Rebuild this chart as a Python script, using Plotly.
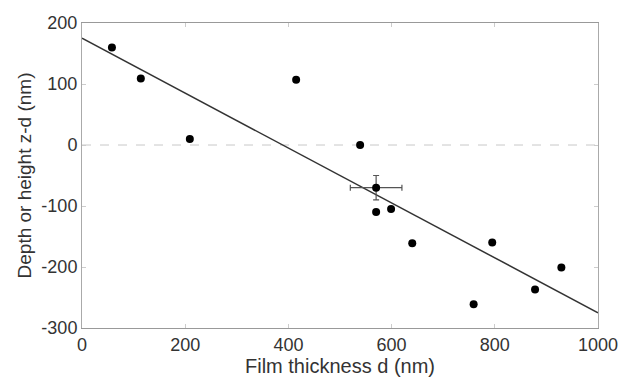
import plotly.graph_objects as go

# Data
thickness = [58, 114, 209, 415, 539, 570, 599, 640, 759, 795, 878, 929]
depth = [160, 109, 10, 107, 0, -110, -105, -161, -261, -160, -237, -201]

# Point with error bars
err_x = [570]
err_y = [-70]
err_dx = [50]
err_dy = [20]

# Linear fit
fit_x = [0, 1000]
fit_y = [175, -275]

x_ticks = [0, 200, 400, 600, 800, 1000]
y_ticks = [-300, -200, -100, 0, 100, 200]
y_tick_text = ["-300", "-200", "-100", "0", "100", "200"]

fig = go.Figure()
fig.add_trace(go.Scatter(x=fit_x, y=fit_y, mode="lines",
                         line=dict(color="#333333", width=1.5), showlegend=False))
fig.add_trace(go.Scatter(x=thickness, y=depth, mode="markers",
                         marker=dict(color="black", size=8), showlegend=False))
fig.add_trace(go.Scatter(x=err_x, y=err_y, mode="markers",
                         marker=dict(color="black", size=8),
                         error_x=dict(type="data", array=err_dx, color="#555555", thickness=1.2, width=3),
                         error_y=dict(type="data", array=err_dy, color="#555555", thickness=1.2, width=3),
                         showlegend=False))

fig.add_shape(type="line", xref="paper", x0=0, x1=1, yref="y", y0=0, y1=0,
              line=dict(color="#c8c8c8", width=1, dash="dash"), layer="below")

fig.update_layout(
    width=622, height=383,
    margin=dict(l=82, r=24, t=23, b=55),
    paper_bgcolor="white", plot_bgcolor="white",
    font=dict(family="Liberation Sans, Arial, sans-serif", size=18, color="#333333"),
    xaxis=dict(range=[0, 1000], tickvals=x_ticks, showgrid=False, zeroline=False,
               showline=True, linecolor="#999999", linewidth=1, mirror="ticks",
               ticks="inside", ticklen=4, tickcolor="#cccccc", automargin=False,
               tickfont=dict(size=18),
               title=dict(text="Film thickness d (nm)", standoff=0, font=dict(size=20))),
    yaxis=dict(range=[-300, 200], tickvals=y_ticks, ticktext=y_tick_text,
               showgrid=False, zeroline=False,
               showline=True, linecolor="#aaaaaa", linewidth=1, mirror="ticks",
               ticks="inside", ticklen=4, tickcolor="#cccccc", automargin=False,
               tickfont=dict(size=18),
               title=dict(text="Depth or height z-d (nm)", standoff=4, font=dict(size=19))),
)

fig.write_html("out.html")
